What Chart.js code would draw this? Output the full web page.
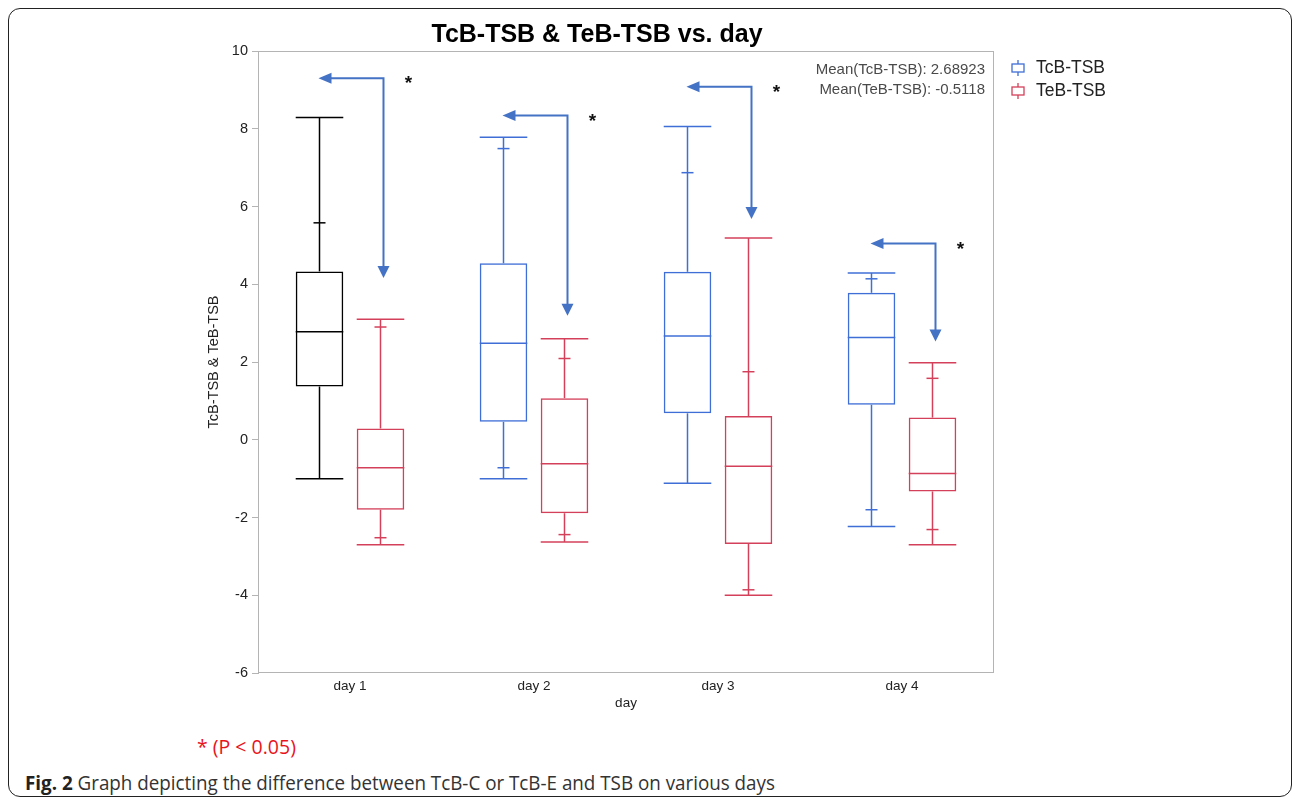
<!DOCTYPE html>
<html lang="en">
<head>
    <meta charset="UTF-8">
    <title>TcB-TSB & TeB-TSB vs. day</title>
    <script src="https://cdn.jsdelivr.net/npm/chart.js"></script>
    <style>
        body { margin: 0; background: #fff; width: 1292px; height: 801px; overflow: hidden; position: relative; }
        .frame { position: absolute; left: 8px; top: 8px; width: 1284px; height: 789px; box-sizing: border-box;
                 border: 1.5px solid #222; border-radius: 12px; }
        #chartWrap { position: absolute; left: 0; top: 0; }
        .pnote { position: absolute; left: 197px; top: 733px; color: #e8141b; font-family: "Open Sans", sans-serif;
                 font-size: 19.5px; }
        .caption { position: absolute; left: 25px; top: 769px; color: #333; font-family: "Open Sans", sans-serif;
                   font-size: 20px; white-space: nowrap; transform: scaleX(0.94); transform-origin: left center; }
        .caption b { color: #222; }
    </style>
</head>
<body>
    <div class="frame"></div>
    <div id="chartWrap"><canvas id="boxChart" width="1292" height="720"></canvas></div>
    <div class="pnote">* (P &lt; 0.05)</div>
    <div class="caption"><b>Fig. 2</b> Graph depicting the difference between TcB-C or TcB-E and TSB on various days</div>

    <script>
        // categories
        const days = ['day 1', 'day 2', 'day 3', 'day 4'];

        // TcB-TSB box stats
        const tcbMin      = [-1.00, -1.00, -1.12, -2.23];
        const tcbLowTick  = [null, -0.72, null, -1.80];
        const tcbQ1       = [1.37, 0.46, 0.68, 0.90];
        const tcbMedian   = [2.78, 2.48, 2.67, 2.63];
        const tcbQ3       = [4.33, 4.54, 4.32, 3.78];
        const tcbHighTick = [5.58, 7.49, 6.87, 4.14];
        const tcbMax      = [8.29, 7.78, 8.06, 4.29];

        // TeB-TSB box stats
        const tebMin      = [-2.70, -2.63, -4.00, -2.70];
        const tebLowTick  = [-2.52, -2.44, -3.86, -2.31];
        const tebQ1       = [-1.80, -1.89, -2.68, -1.33];
        const tebMedian   = [-0.72, -0.62, -0.68, -0.87];
        const tebQ3       = [0.29, 1.07, 0.61, 0.57];
        const tebHighTick = [2.90, 2.09, 1.75, 1.58];
        const tebMax      = [3.10, 2.60, 5.19, 1.98];

        // significance arrows (y of the horizontal part, y of the down tip)
        const arrowTop = [9.30, 8.34, 9.08, 5.05];
        const arrowTip = [4.16, 3.19, 5.68, 2.53];

        const yTicks = [-6, -4, -2, 0, 2, 4, 6, 8, 10];
        const meanLines = ['Mean(TcB-TSB): 2.68923', 'Mean(TeB-TSB): -0.5118'];
        const seriesNames = ['TcB-TSB', 'TeB-TSB'];

        const BLUE = '#3f6fd6';
        const RED = '#d4405a';
        const ARROW = '#4472c4';
        const tcbColors = ['#000000', BLUE, BLUE, BLUE];
        const tebColors = [RED, RED, RED, RED];
        const FONT = 'Liberation Sans, Arial, sans-serif';

        const pairs = (a, b) => a.map((v, i) => [v, b[i]]);

        const boxPlugin = {
            id: 'boxes',
            beforeDatasetsDraw(chart) {
                const {ctx, chartArea: a} = chart;
                ctx.save();
                ctx.strokeStyle = '#b4b4b4';
                ctx.lineWidth = 1;
                ctx.strokeRect(a.left + 0.5, a.top + 0.5, a.right - a.left - 1, a.bottom - a.top - 1);
                ctx.restore();
            },
            afterDatasetsDraw(chart) {
                const ctx = chart.ctx;
                const y = chart.scales.y;
                const series = [
                    {meta: chart.getDatasetMeta(0), min: tcbMin, lo: tcbLowTick, q1: tcbQ1, q3: tcbQ3, med: tcbMedian, hi: tcbHighTick, max: tcbMax, colors: tcbColors},
                    {meta: chart.getDatasetMeta(1), min: tebMin, lo: tebLowTick, q1: tebQ1, q3: tebQ3, med: tebMedian, hi: tebHighTick, max: tebMax, colors: tebColors}
                ];
                const hline = (x1, x2, yy) => { ctx.beginPath(); ctx.moveTo(x1, yy); ctx.lineTo(x2, yy); ctx.stroke(); };
                const vline = (xx, y1, y2) => { ctx.beginPath(); ctx.moveTo(xx, y1); ctx.lineTo(xx, y2); ctx.stroke(); };

                ctx.save();
                ctx.lineWidth = 1.5;
                series.forEach(s => {
                    s.meta.data.forEach((bar, i) => {
                        const x = bar.x, half = bar.width / 2;
                        ctx.strokeStyle = s.colors[i];
                        hline(x - half, x + half, y.getPixelForValue(s.med[i]));
                        vline(x, y.getPixelForValue(s.q3[i]), y.getPixelForValue(s.max[i]));
                        vline(x, y.getPixelForValue(s.q1[i]), y.getPixelForValue(s.min[i]));
                        hline(x - half, x + half, y.getPixelForValue(s.max[i]));
                        hline(x - half, x + half, y.getPixelForValue(s.min[i]));
                        if (s.hi[i] !== null) hline(x - 6, x + 6, y.getPixelForValue(s.hi[i]));
                        if (s.lo[i] !== null) hline(x - 6, x + 6, y.getPixelForValue(s.lo[i]));
                    });
                });

                // arrows + stars
                const m0 = chart.getDatasetMeta(0), m1 = chart.getDatasetMeta(1);
                days.forEach((d, i) => {
                    const xb = m0.data[i].x, xr = m1.data[i].x;
                    const vx = xr + 3;
                    const yt = y.getPixelForValue(arrowTop[i]);
                    const yd = y.getPixelForValue(arrowTip[i]);
                    ctx.strokeStyle = ARROW;
                    ctx.fillStyle = ARROW;
                    ctx.lineWidth = 2;
                    ctx.beginPath();
                    ctx.moveTo(vx, yd - 10);
                    ctx.lineTo(vx, yt);
                    ctx.lineTo(xb + 10, yt);
                    ctx.stroke();
                    ctx.beginPath();
                    ctx.moveTo(xb - 1, yt);
                    ctx.lineTo(xb + 12, yt - 5.5);
                    ctx.lineTo(xb + 12, yt + 5.5);
                    ctx.closePath();
                    ctx.fill();
                    ctx.beginPath();
                    ctx.moveTo(vx, yd);
                    ctx.lineTo(vx - 6, yd - 12);
                    ctx.lineTo(vx + 6, yd - 12);
                    ctx.closePath();
                    ctx.fill();
                    ctx.fillStyle = '#111';
                    ctx.font = 'bold 19px ' + FONT;
                    ctx.textAlign = 'center';
                    ctx.textBaseline = 'middle';
                    ctx.fillText('*', xr + 28, yt + 6);
                });
                ctx.restore();
            },
            afterDraw(chart) {
                const {ctx, chartArea: a} = chart;
                ctx.save();
                // mean annotations
                ctx.font = '15px ' + FONT;
                ctx.fillStyle = '#4a4a4a';
                ctx.textAlign = 'right';
                ctx.textBaseline = 'middle';
                meanLines.forEach((t, i) => ctx.fillText(t, a.right - 9, a.top + 19 + i * 20));

                // legend
                const colors = [BLUE, RED];
                seriesNames.forEach((name, i) => {
                    const cx = a.right + 24, cy = a.top + 17 + i * 23;
                    ctx.strokeStyle = colors[i];
                    ctx.lineWidth = 1.3;
                    ctx.strokeRect(cx - 6, cy - 4, 12, 8);
                    ctx.beginPath();
                    ctx.moveTo(cx, cy - 8); ctx.lineTo(cx, cy - 4);
                    ctx.moveTo(cx, cy + 4); ctx.lineTo(cx, cy + 8);
                    ctx.stroke();
                    ctx.fillStyle = '#222';
                    ctx.font = '17.5px ' + FONT;
                    ctx.textAlign = 'left';
                    ctx.fillText(name, a.right + 42, cy);
                });
                ctx.restore();
            }
        };

        const ctx = document.getElementById('boxChart').getContext('2d');
        new Chart(ctx, {
            type: 'bar',
            data: {
                labels: days,
                datasets: [{
                    label: seriesNames[0],
                    data: pairs(tcbQ1, tcbQ3),
                    backgroundColor: 'rgba(0,0,0,0)',
                    borderColor: tcbColors,
                    borderWidth: 1.5,
                    borderSkipped: false
                }, {
                    label: seriesNames[1],
                    data: pairs(tebQ1, tebQ3),
                    backgroundColor: 'rgba(0,0,0,0)',
                    borderColor: tebColors,
                    borderWidth: 1.5,
                    borderSkipped: false
                }]
            },
            options: {
                responsive: false,
                animation: false,
                events: [],
                categoryPercentage: 0.663,
                barPercentage: 0.78,
                layout: { padding: { left: 200, right: 298, top: 0, bottom: 7 } },
                plugins: {
                    legend: { display: false },
                    tooltip: { enabled: false },
                    title: {
                        display: true,
                        text: 'TcB-TSB & TeB-TSB vs. day',
                        color: '#000',
                        font: { family: FONT, size: 25, weight: 'bold' },
                        padding: { top: 20, bottom: 1 }
                    }
                },
                scales: {
                    x: {
                        grid: { display: false, drawTicks: false },
                        border: { display: false },
                        ticks: { color: '#222', font: { family: FONT, size: 13.5 }, padding: 5 },
                        title: { display: true, text: 'day', color: '#222', font: { family: FONT, size: 13.5 }, padding: { top: 2, bottom: 2 } },
                        afterFit: s => { s.height = 40; }
                    },
                    y: {
                        min: -6,
                        max: 10,
                        afterBuildTicks: s => { s.ticks = yTicks.map(v => ({ value: v })); },
                        grid: { drawOnChartArea: false, drawTicks: true, tickLength: 6, color: '#b4b4b4' },
                        border: { display: true, color: '#b4b4b4' },
                        ticks: { color: '#222', font: { family: FONT, size: 14.5 }, padding: 4 },
                        title: { display: true, text: 'TcB-TSB & TeB-TSB', color: '#222', font: { family: FONT, size: 14.5 }, padding: { top: 5, bottom: 0 } },
                        afterFit: s => { s.width = 58; }
                    }
                }
            },
            plugins: [boxPlugin]
        });
    </script>
</body>
</html>
